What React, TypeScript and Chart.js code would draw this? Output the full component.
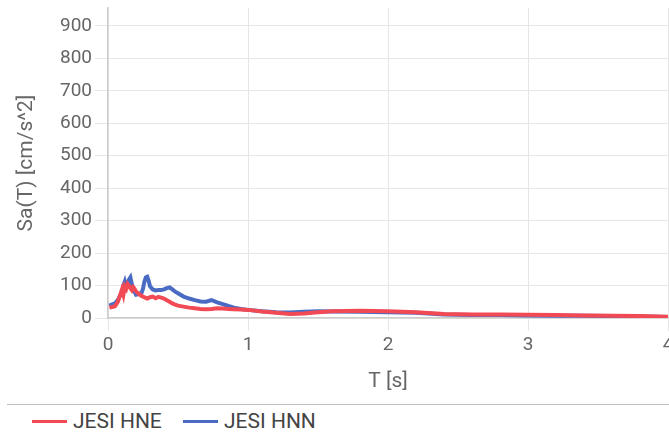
import React, { useEffect, useRef } from "react";
import { Chart, registerables } from "chart.js";

Chart.register(...registerables);

// Period T [s]
const periods = [
  0.01, 0.03, 0.05, 0.07, 0.09, 0.1, 0.11, 0.12, 0.13, 0.14, 0.15, 0.16, 0.17,
  0.18, 0.19, 0.2, 0.22, 0.24, 0.25, 0.26, 0.27, 0.28, 0.29, 0.3, 0.32, 0.34,
  0.36, 0.38, 0.4, 0.42, 0.44, 0.46, 0.48, 0.5, 0.54, 0.58, 0.62, 0.66, 0.7,
  0.74, 0.78, 0.82, 0.86, 0.9, 0.95, 1.0, 1.1, 1.2, 1.3, 1.4, 1.5, 1.6, 1.8,
  2.0, 2.2, 2.4, 2.6, 2.8, 3.0, 3.2, 3.4, 3.6, 3.8, 4.0,
];

// Sa(T) [cm/s^2] – JESI HNE
const saHNE = [
  32, 34, 36, 50, 75, 88, 72, 97, 90, 105, 100, 92, 86, 95, 90, 82, 74, 68, 66,
  64, 62, 60, 62, 64, 66, 61, 65, 63, 60, 55, 50, 45, 41, 38, 35, 32, 30, 28,
  27, 28, 30, 29, 28, 27, 26, 25, 20, 16, 12, 14, 18, 21, 22, 21, 18, 12, 11,
  11, 10, 9, 8, 7, 6, 4,
];

// Sa(T) [cm/s^2] – JESI HNN
const saHNN = [
  38, 42, 45, 55, 72, 80, 100, 112, 95, 105, 118, 125, 105, 92, 80, 72, 74, 78,
  90, 112, 125, 127, 115, 98, 88, 85, 86, 86, 88, 92, 94, 88, 81, 76, 66, 60,
  55, 51, 50, 55, 48, 43, 37, 32, 28, 25, 21, 18, 17, 19, 21, 20, 19, 18, 16,
  11, 9, 9, 8, 7, 7, 6, 5, 3,
];

const seriesNames = ["JESI HNE", "JESI HNN"];
const seriesColors = ["#f24a55", "#4a6bc4"];
const xTitle = "T [s]";
const yTitle = "Sa(T) [cm/s^2]";

const FONT = "Roboto, 'Liberation Sans', Arial, sans-serif";

export default function App() {
  const ref = useRef<HTMLCanvasElement>(null);

  useEffect(() => {
    const chart = new Chart(ref.current as HTMLCanvasElement, {
      type: "line",
      data: {
        datasets: [saHNE, saHNN].map((vals, k) => ({
          label: seriesNames[k],
          data: periods.map((t, i) => ({ x: t, y: vals[i] })),
          borderColor: seriesColors[k],
          backgroundColor: seriesColors[k],
          borderWidth: 4,
          pointRadius: 0,
          tension: 0,
          fill: false,
        })),
      },
      options: {
        animation: false,
        responsive: false,
        maintainAspectRatio: false,
        layout: { padding: { top: 20, right: 9, bottom: 0, left: 0 } },
        plugins: {
          legend: { display: false },
          tooltip: { enabled: false },
        },
        scales: {
          x: {
            type: "linear",
            min: 0,
            max: 4,
            afterFit: (s: any) => {
              s.height = 82;
            },
            ticks: {
              stepSize: 1,
              color: "#666",
              padding: 3,
              font: { family: FONT, size: 19 },
            },
            grid: { color: "#e6e6e6", tickLength: 13 },
            border: { color: "#cccccc", width: 1.5 },
            title: {
              display: true,
              text: xTitle,
              color: "#666",
              font: { family: FONT, size: 21 },
              padding: { top: 6, bottom: 6 },
            },
          },
          y: {
            type: "linear",
            min: 0,
            max: 955,
            afterFit: (s: any) => {
              s.width = 100;
            },
            ticks: {
              stepSize: 100,
              includeBounds: false,
              color: "#666",
              padding: 3,
              font: { family: FONT, size: 19 },
            },
            grid: { color: "#e6e6e6", tickLength: 13 },
            border: { color: "#cccccc", width: 1.5 },
            title: {
              display: true,
              text: yTitle,
              color: "#666",
              font: { family: FONT, size: 21 },
              padding: { top: 6, bottom: 6 },
            },
          },
        },
      },
    });
    return () => chart.destroy();
  }, []);

  return (
    <div
      style={{
        position: "fixed",
        left: 0,
        top: 0,
        width: 669,
        height: 433,
        overflow: "hidden",
        background: "#fff",
      }}
    >
      <canvas
        ref={ref}
        width={669}
        height={412}
        style={{ position: "absolute", left: 8, top: -12, width: 669, height: 412 }}
      />
      <div
        style={{
          position: "absolute",
          left: 7,
          top: 404,
          width: 662,
          height: 1,
          background: "#bdbdbd",
        }}
      />
      {seriesNames.map((name, k) => (
        <div
          key={name}
          style={{
            position: "absolute",
            left: k === 0 ? 32 : 183,
            top: 409,
            height: 24,
            display: "flex",
            alignItems: "center",
            fontFamily: FONT,
            fontSize: 21,
            lineHeight: "24px",
            color: "#444",
            whiteSpace: "nowrap",
          }}
        >
          <span
            style={{
              display: "inline-block",
              width: 35,
              height: 3,
              background: seriesColors[k],
              marginRight: 6,
            }}
          />
          <span>{name}</span>
        </div>
      ))}
    </div>
  );
}
